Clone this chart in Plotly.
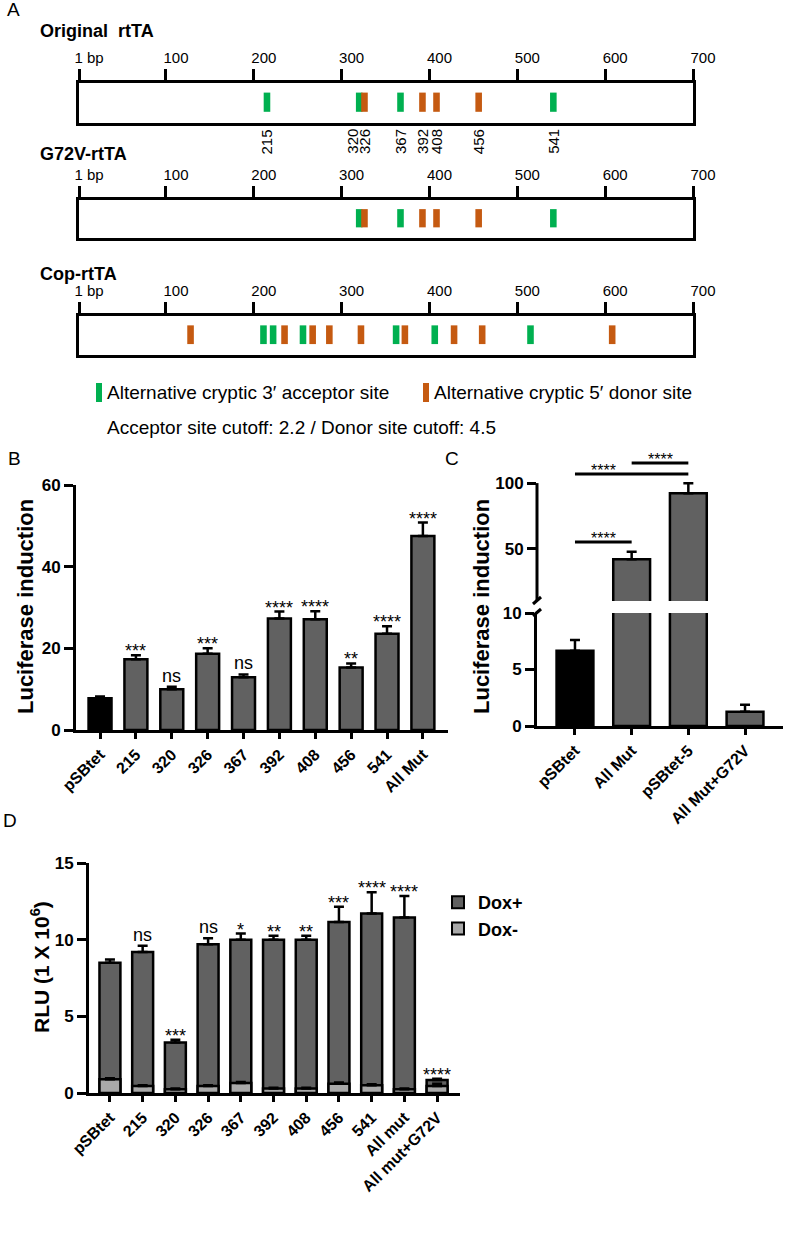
import plotly.graph_objects as go

W, H = 785, 1240

# ---------------- data ----------------
scale_ticks = [1, 100, 200, 300, 400, 500, 600, 700]
scale_labels = ['1 bp', '100', '200', '300', '400', '500', '600', '700']

orig_sites = [215, 320, 326, 367, 392, 408, 456, 541]
orig_kind = ['A', 'A', 'D', 'A', 'D', 'D', 'D', 'A']
g72v_sites = [320, 326, 367, 392, 408, 456, 541]
g72v_kind = ['A', 'D', 'A', 'D', 'D', 'D', 'A']
cop_sites = [128, 211, 222, 235, 256, 267, 286, 322, 362, 372, 406, 428, 460, 515, 608]
cop_kind = ['D', 'A', 'A', 'D', 'A', 'D', 'D', 'D', 'A', 'D', 'A', 'D', 'D', 'A', 'D']

b_cats = ['pSBtet', '215', '320', '326', '367', '392', '408', '456', '541', 'All Mut']
b_vals = [7.8, 17.3, 10.0, 18.7, 12.9, 27.3, 27.1, 15.3, 23.6, 47.5]
b_errs = [0.4, 1.0, 0.6, 1.3, 0.7, 1.7, 2.0, 1.0, 1.8, 3.3]
b_sig = ['', '***', 'ns', '***', 'ns', '****', '****', '**', '****', '****']

c_cats = ['pSBtet', 'All Mut', 'pSBtet-5', 'All Mut+G72V']
c_vals = [6.66, 41.8, 92.2, 1.27]
c_errs = [0.95, 5.8, 7.6, 0.6]
c_pairs = [('pSBtet', 'pSBtet-5'), ('All Mut', 'pSBtet-5'), ('pSBtet', 'All Mut')]
c_pair_sig = ['****', '****', '****']

d_cats = ['pSBtet', '215', '320', '326', '367', '392', '408', '456', '541', 'All mut', 'All mut+G72V']
d_plus = [8.5, 9.2, 3.3, 9.7, 10.0, 10.0, 10.0, 11.15, 11.7, 11.45, 0.85]
d_plus_err = [0.2, 0.4, 0.18, 0.4, 0.4, 0.25, 0.25, 1.0, 1.4, 1.4, 0.08]
d_minus = [0.9, 0.45, 0.25, 0.45, 0.65, 0.3, 0.3, 0.6, 0.5, 0.25, 0.45]
d_minus_err = [0.07, 0.06, 0.04, 0.06, 0.07, 0.05, 0.05, 0.08, 0.07, 0.04, 0.15]
d_sig = ['', 'ns', '***', 'ns', '*', '**', '**', '***', '****', '****', '****']

# ---------------- style ----------------
FONT = 'Arial, Liberation Sans, sans-serif'
ACC = '#00B050'
DON = '#C55A11'
GREY = '#616161'
LIGHT = '#a9a9a9'
KIND_COLOR = {'A': ACC, 'D': DON}


def px_x(x):
    return x / W


def px_y(y):
    return 1 - y / H


def dom_y(top, bottom):
    return [1 - bottom / H, 1 - top / H]


fig = go.Figure()
layout = dict(
    template='none',
    width=W, height=H, margin=dict(l=0, r=0, t=0, b=0, pad=0), autosize=False,
    paper_bgcolor='white', plot_bgcolor='white',
    font=dict(family=FONT, color='black'),
    barmode='overlay', showlegend=True,
)
annotations = []
shapes = []


def txt(x, y, text, size, bold=False, xanchor='left', yanchor='middle', angle=0):
    annotations.append(dict(
        x=px_x(x), y=px_y(y), xref='paper', yref='paper', text=text,
        showarrow=False, xanchor=xanchor, yanchor=yanchor, textangle=angle,
        font=dict(size=size, family=FONT, color='black',
                  weight='bold' if bold else 'normal')))


# ---------------- Panel A ----------------
tracks = [
    (1, orig_sites, orig_kind, 83, 123, 'Original  rtTA', 31),
    (2, g72v_sites, g72v_kind, 200, 238, 'G72V-rtTA', 154),
    (3, cop_sites, cop_kind, 316, 355, 'Cop-rtTA', 274),
]
for idx, sites, kinds, top, bot, title, ty in tracks:
    sfx = '' if idx == 1 else str(idx)
    layout['xaxis' + sfx] = dict(
        domain=[px_x(79), px_x(693)], range=[1, 700], side='top', anchor='y' + sfx,
        tickvals=scale_ticks, ticktext=scale_labels, ticks='outside', ticklen=11,
        tickwidth=3, tickcolor='black', showline=True, linewidth=3, linecolor='black',
        mirror=True, showgrid=False, zeroline=False, fixedrange=True, automargin=False,
        tickfont=dict(size=15, family=FONT, color='black'), ticklabelshift=10)
    layout['yaxis' + sfx] = dict(
        domain=dom_y(top, bot), range=[0, 1], anchor='x' + sfx, showline=True,
        linewidth=3, linecolor='black', mirror=True, showticklabels=False,
        ticks='', showgrid=False, zeroline=False, fixedrange=True, automargin=False)
    fig.add_trace(go.Bar(
        x=sites, y=[0.48] * len(sites), base=0.28, width=7.5,
        marker=dict(color=[KIND_COLOR[k] for k in kinds], line=dict(width=0)),
        xaxis='x' + sfx, yaxis='y' + sfx, showlegend=False, hoverinfo='skip'))
    txt(38, ty, title, 18, bold=True)

label_nudge = {320: -7}
for s in orig_sites:
    annotations.append(dict(
        x=s, y=px_y(127), xref='x', yref='paper', text=str(s), showarrow=False,
        textangle=-90, xanchor='center', yanchor='top', xshift=label_nudge.get(s, 0),
        font=dict(size=15, family=FONT, color='black')))

# legend of panel A
shapes.append(dict(type='rect', xref='paper', yref='paper', x0=px_x(96), x1=px_x(102),
                   y0=px_y(402), y1=px_y(383), fillcolor=ACC, line=dict(width=0)))
txt(105, 393, 'Alternative cryptic 3\u2032 acceptor site', 19)
shapes.append(dict(type='rect', xref='paper', yref='paper', x0=px_x(423), x1=px_x(429),
                   y0=px_y(402), y1=px_y(383), fillcolor=DON, line=dict(width=0)))
txt(432, 393, 'Alternative cryptic 5\u2032 donor site', 19)
txt(105, 427, 'Acceptor site cutoff: 2.2 / Donor site cutoff: 4.5', 19)

# panel letters
txt(5, 10, 'A', 19)
txt(6, 458, 'B', 19)
txt(443, 458, 'C', 19)
txt(1, 820, 'D', 19)

axis_common = dict(showline=True, linewidth=3, linecolor='black', ticks='outside',
                   tickwidth=3, tickcolor='black', showgrid=False, zeroline=False,
                   fixedrange=True, automargin=False)
bold_tick = dict(size=17, family=FONT, color='black', weight='bold')
xtick_font = dict(size=16, family=FONT, color='black', weight='bold')
err_style = dict(type='data', symmetric=False, color='black', thickness=2.5, width=5)

# ---------------- Panel B ----------------
layout['xaxis4'] = dict(axis_common, domain=[px_x(76), px_x(448)], range=[-0.67, 9.7],
                        anchor='y4', type='category', categoryorder='array',
                        categoryarray=b_cats, ticklen=6, tickangle=-45, tickfont=xtick_font)
layout['yaxis4'] = dict(axis_common, domain=dom_y(485, 730), range=[0, 60], anchor='x4',
                        tickvals=[0, 20, 40, 60], ticklen=9, tickfont=bold_tick)
fig.add_trace(go.Bar(
    x=b_cats, y=b_vals, width=0.64,
    marker=dict(color=['black'] + [GREY] * (len(b_cats) - 1), line=dict(color='black', width=2.5)),
    error_y=dict(err_style, array=b_errs, arrayminus=[0] * len(b_errs)),
    xaxis='x4', yaxis='y4', showlegend=False))
for i, (v, e, s) in enumerate(zip(b_vals, b_errs, b_sig)):
    if s:
        annotations.append(dict(x=i, y=v + e, xref='x4', yref='y4', text=s, showarrow=False,
                                yanchor='bottom', yshift=-8 if '*' in s else -1,
                                font=dict(size=18, family=FONT, color='black')))
txt(25, 607, 'Luciferase induction', 22, bold=True, xanchor='center', angle=-90)

# ---------------- Panel C (broken axis) ----------------
layout['xaxis5'] = dict(axis_common, domain=[px_x(537), px_x(783)], range=[-0.67, 3.67],
                        anchor='y5', type='category', categoryorder='array',
                        categoryarray=c_cats, ticklen=6, tickangle=-45, tickfont=xtick_font)
layout['yaxis5'] = dict(axis_common, domain=dom_y(613, 726), range=[0, 10], anchor='x5',
                        tickvals=[0, 5, 10], ticklen=9, tickfont=bold_tick)
upper_top = 440
upper_range_top = 10 + (601 - upper_top) / 1.31
layout['yaxis6'] = dict(axis_common, domain=dom_y(upper_top, 601), range=[10, upper_range_top],
                        anchor='x5', showline=False, tickvals=[50, 100], ticklen=9,
                        tickfont=bold_tick)
c_colors = ['black'] + [GREY] * (len(c_cats) - 1)
for ya in ['y5', 'y6']:
    fig.add_trace(go.Bar(
        x=c_cats, y=c_vals, width=0.65,
        marker=dict(color=c_colors, line=dict(color='black', width=2.5)),
        error_y=dict(err_style, array=c_errs, arrayminus=[0] * len(c_errs)),
        xaxis='x5', yaxis=ya, showlegend=False))
shapes.append(dict(type='line', xref='x5 domain', yref='y6', x0=0, x1=0, y0=10, y1=100,
                   line=dict(color='black', width=3)))
# axis break marks
for y0 in [601, 613]:
    shapes.append(dict(type='line', xref='paper', yref='paper', x0=px_x(533), x1=px_x(541),
                       y0=px_y(y0 + 3), y1=px_y(y0 - 4), line=dict(color='black', width=3)))
bracket_y = [107, 115.3, 55]
bracket_text_x = [0.5, 1.5, 0.5]
for (a, b), s, by, tx in zip(c_pairs, c_pair_sig, bracket_y, bracket_text_x):
    shapes.append(dict(type='line', xref='x5', yref='y6', x0=a, x1=b, y0=by, y1=by,
                       line=dict(color='black', width=3)))
    annotations.append(dict(x=tx, y=by, xref='x5', yref='y6', text=s, showarrow=False,
                            yanchor='bottom', yshift=-7,
                            font=dict(size=16, family=FONT, color='black')))
txt(481, 607, 'Luciferase induction', 22, bold=True, xanchor='center', angle=-90)

# ---------------- Panel D ----------------
layout['xaxis7'] = dict(axis_common, domain=[px_x(89), px_x(460)], range=[-0.64, 10.7],
                        anchor='y7', type='category', categoryorder='array',
                        categoryarray=d_cats, ticklen=6, tickangle=-45, tickfont=xtick_font)
layout['yaxis7'] = dict(axis_common, domain=dom_y(863, 1093), range=[0, 15], anchor='x7',
                        tickvals=[0, 5, 10, 15], ticklen=9, tickfont=bold_tick)
fig.add_trace(go.Bar(
    x=d_cats, y=d_plus, width=0.64, name='Dox+',
    marker=dict(color=GREY, line=dict(color='black', width=2.5)),
    error_y=dict(err_style, array=d_plus_err, arrayminus=[0] * len(d_plus_err)),
    xaxis='x7', yaxis='y7', showlegend=True))
fig.add_trace(go.Bar(
    x=d_cats, y=d_minus, width=0.64, name='Dox-',
    marker=dict(color=LIGHT, line=dict(color='black', width=2.5)),
    error_y=dict(err_style, array=d_minus_err, arrayminus=[0] * len(d_minus_err)),
    xaxis='x7', yaxis='y7', showlegend=True))
for i, (v, e, s) in enumerate(zip(d_plus, d_plus_err, d_sig)):
    if s:
        annotations.append(dict(x=i, y=v + e, xref='x7', yref='y7', text=s, showarrow=False,
                                yanchor='bottom', yshift=-8 if '*' in s else -1,
                                font=dict(size=18, family=FONT, color='black')))
txt(40, 967, 'RLU (1 X 10<sup>6</sup>)', 21, bold=True, xanchor='center', angle=-90)

layout['legend'] = dict(x=px_x(438), y=px_y(884), xanchor='left', yanchor='top',
                        bgcolor='rgba(0,0,0,0)', traceorder='normal',
                        font=dict(size=18, family=FONT, color='black', weight='bold'),
                        itemsizing='constant', tracegroupgap=4)
layout['annotations'] = annotations
layout['shapes'] = shapes
fig.update_layout(**layout)
fig.write_html('out.html', config={'displayModeBar': False},
               post_script="document.body.style.margin='0px';")
